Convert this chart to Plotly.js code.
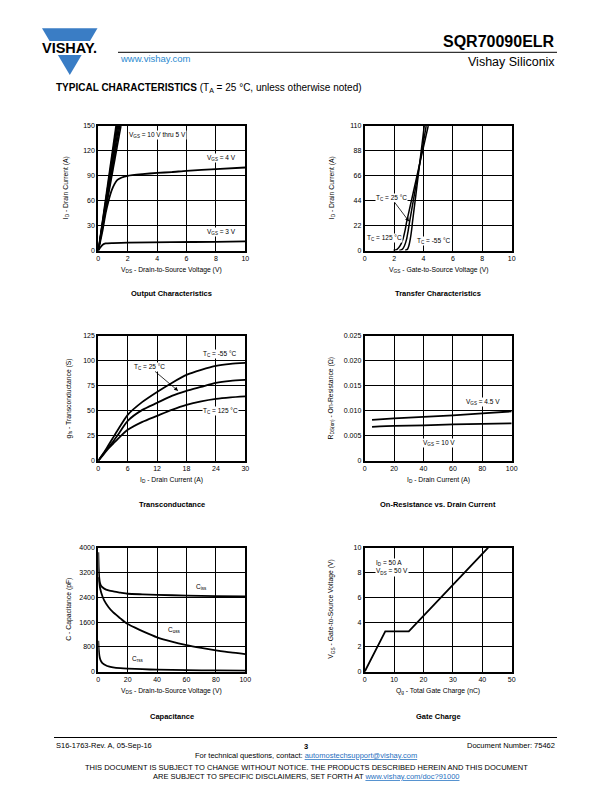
<!DOCTYPE html>
<html>
<head>
<meta charset="utf-8">
<script src="https://cdn.plot.ly/plotly-3.0.1.min.js"></script>
<style>html,body{margin:0;padding:0;background:#fff;}#chart{width:612px;height:792px;}</style>
</head>
<body>
<div id="chart"></div>
<script>
// ---------- DATA ----------
// Output Characteristics (VDS in V, ID in A)
const outBundleVgs = ["10 V", "9 V", "8 V", "7 V", "6 V", "5 V"];
const outBundleX = [[0, 1.20], [0, 1.26], [0, 1.32], [0, 1.39], [0, 1.46], [0, 1.54]];
const outBundleY = [[0, 150], [0, 150], [0, 150], [0, 150], [0, 150], [0, 150]];
const outVgs4X = [0, 0.3, 0.5, 0.7, 0.9, 1.1, 1.3, 1.6, 2, 3, 4, 5, 6, 8, 10];
const outVgs4Y = [0, 25, 45, 60, 72, 80, 85, 88, 90, 92, 93.5, 94.5, 96, 98, 100];
const outVgs3X = [0, 0.15, 0.3, 0.5, 1, 2, 5, 8, 10];
const outVgs3Y = [0, 4, 7, 8.5, 9, 9.5, 10, 10.5, 11];

// Transfer Characteristics (VGS in V, ID in A)
const trM55X = [2.75, 2.9, 3.0, 3.1, 3.2, 3.25, 3.5, 3.75, 4.05];
const trM55Y = [0, 1, 4, 10, 19, 25, 51, 78, 110];
const tr25X = [2.35, 2.55, 2.7, 2.85, 2.95, 3.05, 3.4, 3.8, 4.18];
const tr25Y = [0, 1, 4, 10, 17, 25, 51, 81, 110];
const tr125X = [1.95, 2.2, 2.4, 2.6, 2.75, 2.85, 3.3, 3.8, 4.32];
const tr125Y = [0, 1, 4, 10, 18, 25, 51, 80, 110];

// Transconductance (ID in A, gfs in S)
const gfsX = [0, 1, 2, 3, 4, 6, 9, 12, 15, 18, 21, 24, 27, 30];
const gfsM55 = [0, 7, 15, 23, 31, 46, 59, 69, 78, 86, 91, 95, 97, 98];
const gfs25 = [0, 7, 13, 19, 26, 40, 51, 58, 65, 70, 74, 78, 80, 81];
const gfs125 = [0, 6, 12, 17, 22, 31, 39, 45, 51, 56, 59.5, 62, 63.5, 64.5];

// On-Resistance vs. Drain Current (ID in A, RDS(on) in ohm)
const rdsX = [5, 20, 40, 60, 80, 100];
const rds45 = [0.0082, 0.0085, 0.0088, 0.0091, 0.0095, 0.0099];
const rds10 = [0.0068, 0.0070, 0.0071, 0.0073, 0.0074, 0.0075];
const rdsTickVals = [0, 0.005, 0.010, 0.015, 0.020, 0.025];
const rdsTickText = ["0", "0.005", "0.010", "0.015", "0.020", "0.025"];

// Capacitance (VDS in V, C in pF)
const cissX = [0, 0.3, 0.7, 1.2, 2, 4, 7, 11, 15, 20, 30, 40, 60, 80, 100];
const cissY = [3850, 3300, 3000, 2850, 2760, 2680, 2620, 2580, 2550, 2515, 2495, 2480, 2455, 2440, 2430];
const cossX = [0, 0.5, 1, 2, 4, 7, 10, 15, 18, 20, 25, 30, 40, 50, 60, 70, 80, 90, 100];
const cossY = [3050, 2900, 2750, 2550, 2300, 2080, 1920, 1720, 1600, 1540, 1420, 1310, 1110, 970, 860, 770, 690, 620, 570];
const crssX = [0, 0.3, 0.7, 1.2, 2, 3, 5, 7, 10, 15, 20, 30, 40, 60, 80, 100];
const crssY = [1000, 720, 530, 420, 330, 270, 210, 170, 140, 115, 100, 80, 65, 50, 40, 35];

// Gate Charge (Qg in nC, VGS in V)
const qgX = [0, 7, 15, 42];
const qgY = [0, 3.25, 3.25, 10];

// Axis ranges / ticks
const tickOut = {x: [0, 10, 2], y: [0, 150, 30]};
const tickTr = {x: [0, 10, 2], y: [0, 110, 22]};
const tickGfs = {x: [0, 30, 6], y: [0, 125, 25]};
const tickRds = {x: [0, 100, 20], y: [0, 0.025, 0.005]};
const tickCap = {x: [0, 100, 20], y: [0, 4000, 800]};
const tickQg = {x: [0, 50, 10], y: [0, 10, 2]};

// ---------- LAYOUT HELPERS ----------
const W = 612, H = 792;
const px = v => v / W;
const py = v => 1 - v / H;
const FONT = "Liberation Sans, Arial, sans-serif";

const colL = [98.3, 245.3], colR = [364.7, 511.7];
const row1 = [126, 250.5], row2 = [336, 460.8], row3 = [547.7, 671.7];

function xax(col, t, anchor) {
  return {domain: [px(col[0]), px(col[1])], range: [t[0], t[1]], dtick: t[2], tick0: 0, anchor: anchor,
    showgrid: true, gridcolor: "#000", gridwidth: 1, showline: true, mirror: true, linewidth: 2, linecolor: "#000",
    zeroline: false, ticks: "", tickfont: {family: FONT, size: 7, color: "#000"}, fixedrange: true};
}
function yax(row, t, anchor) {
  return {domain: [py(row[1]), py(row[0])], range: [t[0], t[1]], dtick: t[2], tick0: 0, anchor: anchor,
    showgrid: true, gridcolor: "#000", gridwidth: 1, showline: true, mirror: true, linewidth: 2, linecolor: "#000",
    zeroline: false, ticks: "", tickfont: {family: FONT, size: 7, color: "#000"}, fixedrange: true};
}

const traces = [];
function line(x, y, xa, ya, w, shape) {
  traces.push({x: x, y: y, xaxis: xa, yaxis: ya, type: "scatter", mode: "lines",
    line: {color: "#000", width: w || 1.8, shape: shape || "spline", smoothing: 0.6}, hoverinfo: "skip", showlegend: false});
}
outBundleX.forEach((xs, i) => line(xs, outBundleY[i], "x", "y", 1.5, "linear"));
line(outVgs4X, outVgs4Y, "x", "y");
line(outVgs3X, outVgs3Y, "x", "y");
line(trM55X, trM55Y, "x2", "y2", 1.5);
line(tr25X, tr25Y, "x2", "y2", 1.5);
line(tr125X, tr125Y, "x2", "y2", 1.5);
line(gfsX, gfsM55, "x3", "y3");
line(gfsX, gfs25, "x3", "y3");
line(gfsX, gfs125, "x3", "y3");
line(rdsX, rds45, "x4", "y4");
line(rdsX, rds10, "x4", "y4");
line(cissX, cissY, "x5", "y5");
line(cossX, cossY, "x5", "y5");
line(crssX, crssY, "x5", "y5");
line(qgX, qgY, "x6", "y6", 1.8, "linear");

const ann = [];
function txt(text, x, y, opts) {
  ann.push(Object.assign({text: text, x: px(x), y: py(y), xref: "paper", yref: "paper", showarrow: false,
    xanchor: "center", yanchor: "middle", font: {family: FONT, size: 7, color: "#000"}}, opts || {}));
}
function lab(text, x, y, xr, yr, opts) {
  ann.push(Object.assign({text: text, x: x, y: y, xref: xr, yref: yr, showarrow: false,
    xanchor: "center", yanchor: "middle", bgcolor: "#fff", borderpad: 0,
    font: {family: FONT, size: 6.5, color: "#000"}}, opts || {}));
}

// Axis titles
const af = {family: FONT, size: 6.8, color: "#000"};
const cxL = (colL[0] + colL[1]) / 2, cxR = (colR[0] + colR[1]) / 2;
txt("V<sub>DS</sub> - Drain-to-Source Voltage (V)", cxL, 270.5, {font: af});
txt("V<sub>GS</sub> - Gate-to-Source Voltage (V)", cxR, 270.5, {font: af});
txt("I<sub>D</sub> - Drain Current (A)", cxL, 480, {font: af});
txt("I<sub>D</sub> - Drain Current (A)", cxR, 480, {font: af});
txt("V<sub>DS</sub> - Drain-to-Source Voltage (V)", cxL, 691, {font: af});
txt("Q<sub>g</sub> - Total Gate Charge (nC)", cxR, 691, {font: af});
txt("I<sub>D</sub> - Drain Current (A)", 66, (row1[0] + row1[1]) / 2, {textangle: -90, font: af});
txt("I<sub>D</sub> - Drain Current (A)", 332, (row1[0] + row1[1]) / 2, {textangle: -90, font: af});
txt("g<sub>fs</sub> - Transconductance (S)", 69, (row2[0] + row2[1]) / 2, {textangle: -90, font: af});
txt("R<sub>DS(on)</sub> - On-Resistance (Ω)", 331, (row2[0] + row2[1]) / 2, {textangle: -90, font: af});
txt("C - Capacitance (pF)", 69, (row3[0] + row3[1]) / 2, {textangle: -90, font: af});
txt("V<sub>GS</sub> - Gate-to-Source Voltage (V)", 331, (row3[0] + row3[1]) / 2, {textangle: -90, font: af});

// Chart titles
const tf = {family: FONT, size: 7.5, color: "#000"};
txt("<b>Output Characteristics</b>", cxL, 293.5, {font: tf});
txt("<b>Transfer Characteristics</b>", cxR, 293.5, {font: tf});
txt("<b>Transconductance</b>", cxL, 504.5, {font: tf});
txt("<b>On-Resistance vs. Drain Current</b>", cxR, 504.5, {font: tf});
txt("<b>Capacitance</b>", cxL, 716, {font: tf});
txt("<b>Gate Charge</b>", cxR, 716, {font: tf});

// In-plot labels
lab("V<sub>GS</sub> = 10 V thru 5 V", 2.0, 139, "x", "y", {xanchor: "left"});
lab("V<sub>GS</sub> = 4 V", 8.35, 111, "x", "y");
lab("V<sub>GS</sub> = 3 V", 8.35, 22.6, "x", "y");
lab("T<sub>C</sub> = 25 °C", 3.02, 25.6, "x2", "y2", {showarrow: true, ax: 1.79, ay: 46.8, axref: "x2", ayref: "y2",
  arrowhead: 2, arrowsize: 1, arrowwidth: 0.8, arrowcolor: "#000"});
lab("T<sub>C</sub> = 125 °C", 1.35, 11.3, "x2", "y2");
lab("T<sub>C</sub> = -55 °C", 4.68, 8.6, "x2", "y2");
lab("T<sub>C</sub> = -55 °C", 24.7, 107, "x3", "y3");
lab("T<sub>C</sub> = 25 °C", 16.3, 70, "x3", "y3", {showarrow: true, ax: 10.5, ay: 94, axref: "x3", ayref: "y3",
  arrowhead: 2, arrowsize: 1, arrowwidth: 0.8, arrowcolor: "#000"});
lab("T<sub>C</sub> = 125 °C", 24.9, 49.9, "x3", "y3");
lab("V<sub>GS</sub> = 4.5 V", 80.8, 0.01184, "x4", "y4");
lab("V<sub>GS</sub> = 10 V", 50.5, 0.00357, "x4", "y4");
lab("C<sub>iss</sub>", 69.9, 2742, "x5", "y5");
lab("C<sub>oss</sub>", 51.5, 1345, "x5", "y5");
lab("C<sub>rss</sub>", 27, 410, "x5", "y5");
lab("I<sub>D</sub> = 50 A<br>V<sub>DS</sub> = 50 V", 3.6, 8.4, "x6", "y6", {xanchor: "left", align: "left"});

// Header
const blue = "#3a7dc5";
txt("<b>VISHAY.</b>", 69.5, 48, {font: {family: FONT, size: 14.5, color: "#000"}});
txt("<b>SQR70090ELR</b>", 557, 42, {xanchor: "right", font: {family: FONT, size: 16, color: "#000"}});
txt("Vishay Siliconix", 557, 62, {xanchor: "right", font: {family: FONT, size: 12.5, color: "#000"}});
txt("www.vishay.com", 118, 58.5, {xanchor: "left", font: {family: FONT, size: 9.5, color: "#2b8ad0"}});
txt("<b>TYPICAL CHARACTERISTICS</b> (T<sub>A</sub> = 25 °C, unless otherwise noted)", 54, 88,
  {xanchor: "left", font: {family: FONT, size: 10, color: "#000"}});

// Footer
const ff = {family: FONT, size: 7.5, color: "#000"};
txt("S16-1763-Rev. A, 05-Sep-16", 54, 745, {xanchor: "left", font: ff});
txt("<b>3</b>", 306, 746, {font: ff});
txt("Document Number: 75462", 557, 745, {xanchor: "right", font: ff});
txt("For technical questions, contact: <span style=\"color:#1f6fc0\"><u>automostechsupport@vishay.com</u></span>", 306, 755, {font: ff});
txt("THIS DOCUMENT IS SUBJECT TO CHANGE WITHOUT NOTICE. THE PRODUCTS DESCRIBED HEREIN AND THIS DOCUMENT", 306, 767, {font: ff});
txt("ARE SUBJECT TO SPECIFIC DISCLAIMERS, SET FORTH AT <span style=\"color:#1f6fc0\"><u>www.vishay.com/doc?91000</u></span>", 306, 776, {font: ff});

const shapes = [
  // logo triangle with white band for the wordmark
  {type: "path", xref: "paper", yref: "paper", path: `M ${px(42)} ${py(28.3)} L ${px(97.5)} ${py(28.3)} L ${px(69.8)} ${py(75)} Z`,
    fillcolor: blue, line: {width: 0}, layer: "below"},
  {type: "rect", xref: "paper", yref: "paper", x0: px(38), x1: px(102), y0: py(55), y1: py(41), fillcolor: "#fff", line: {width: 0}, layer: "below"},
  // header line
  {type: "line", xref: "paper", yref: "paper", x0: px(118), x1: px(557), y0: py(52.3), y1: py(52.3), line: {color: "#000", width: 1}, layer: "below"},
  // footer line
  {type: "line", xref: "paper", yref: "paper", x0: px(54), x1: px(557), y0: py(737.5), y1: py(737.5), line: {color: "#000", width: 1}, layer: "below"}
];

const y4 = yax(row2, tickRds.y, "x4");
y4.tickmode = "array"; y4.tickvals = rdsTickVals; y4.ticktext = rdsTickText;

const layout = {
  width: W, height: H, margin: {l: 0, r: 0, t: 0, b: 0}, paper_bgcolor: "#fff", plot_bgcolor: "#fff",
  showlegend: false, font: {family: FONT, color: "#000"},
  xaxis: xax(colL, tickOut.x, "y"), yaxis: yax(row1, tickOut.y, "x"),
  xaxis2: xax(colR, tickTr.x, "y2"), yaxis2: yax(row1, tickTr.y, "x2"),
  xaxis3: xax(colL, tickGfs.x, "y3"), yaxis3: yax(row2, tickGfs.y, "x3"),
  xaxis4: xax(colR, tickRds.x, "y4"), yaxis4: y4,
  xaxis5: xax(colL, tickCap.x, "y5"), yaxis5: yax(row3, tickCap.y, "x5"),
  xaxis6: xax(colR, tickQg.x, "y6"), yaxis6: yax(row3, tickQg.y, "x6"),
  annotations: ann, shapes: shapes
};
Plotly.newPlot("chart", traces, layout, {staticPlot: true, displayModeBar: false});
</script>
</body>
</html>
